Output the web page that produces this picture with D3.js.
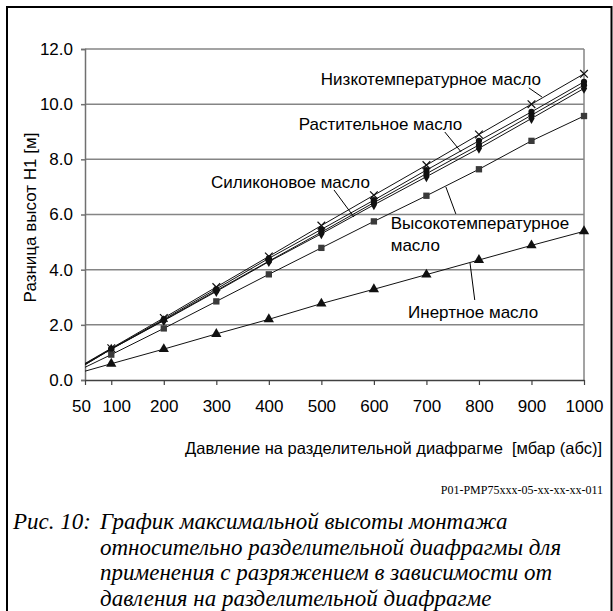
<!DOCTYPE html>
<html>
<head>
<meta charset="utf-8">
<script src="https://cdn.jsdelivr.net/npm/d3@7"></script>
<style>
  body { margin: 0; background: #fff; }
  svg { display: block; }
</style>
</head>
<body>
<div class="canvas"></div>
<script>
// chart data
const pressure = [50, 100, 200, 300, 400, 500, 600, 700, 800, 900, 1000];
const lowTemp   = [0.60, 1.15, 2.25, 3.37, 4.48, 5.60, 6.70, 7.79, 8.90, 10.00, 11.10];
const vegetable = [0.58, 1.13, 2.20, 3.30, 4.41, 5.46, 6.52, 7.61, 8.67, 9.72, 10.81];
const silicone  = [0.56, 1.12, 2.17, 3.24, 4.31, 5.36, 6.43, 7.48, 8.52, 9.60, 10.69];
const fourthOil = [0.55, 1.12, 2.15, 3.21, 4.29, 5.30, 6.35, 7.37, 8.40, 9.48, 10.57];
const highTemp  = [0.46, 0.92, 1.87, 2.85, 3.83, 4.79, 5.75, 6.68, 7.64, 8.67, 9.57];
const inert     = [0.32, 0.59, 1.12, 1.67, 2.20, 2.77, 3.29, 3.82, 4.35, 4.88, 5.39];

const xTicks = [50, 100, 200, 300, 400, 500, 600, 700, 800, 900, 1000];
const yTicks = [0, 2, 4, 6, 8, 10, 12];

const series = [
  {name: 'Низкотемпературное масло', values: lowTemp, marker: 'x'},
  {name: 'Растительное масло', values: vegetable, marker: 'circle'},
  {name: 'Силиконовое масло', values: silicone, marker: 'circle'},
  {name: 'Масло 4', values: fourthOil, marker: 'diamond'},
  {name: 'Высокотемпературное масло', values: highTemp, marker: 'square'},
  {name: 'Инертное масло', values: inert, marker: 'triangle'}
];

// labels and leader lines, in data units
const labels = [
  {lines: ['Низкотемпературное масло'], p: 499, v: 10.70, leader: [[895, 10.59], [920, 10.26]]},
  {lines: ['Растительное масло'], p: 457, v: 9.06, leader: [[735, 8.99], [766, 8.27]]},
  {lines: ['Силиконовое масло'], p: 290, v: 6.96, leader: [[524, 6.89], [562, 5.91]]},
  {lines: ['Высокотемпературное', 'масло'], p: 632, v: 5.47, leader: [[737, 7.00], [756, 6.02]]},
  {lines: ['Инертное масло'], p: 665, v: 2.25, leader: [[783, 4.24], [792, 2.90]]}
];

const W = 613, H = 611;
const margin = {left: 85, right: 584, top: 49, bottom: 380};
const sans = '"Liberation Sans", Arial, sans-serif';
const serif = '"Liberation Serif", "Times New Roman", serif';

const svg = d3.select('.canvas').append('svg')
  .attr('width', W).attr('height', H);

// page frame
svg.append('path')
  .attr('d', `M7,${H} V7 H611.5 V${H}`)
  .attr('fill', 'none').attr('stroke', '#000').attr('stroke-width', 2);

const x = d3.scaleLinear().domain([50, 1000]).range([margin.left, margin.right]);
const y = d3.scaleLinear().domain([0, 12]).range([margin.bottom, margin.top]);

// gridlines
svg.append('g').selectAll('line')
  .data(yTicks.filter(d => d > 0))
  .enter().append('line')
  .attr('x1', margin.left).attr('x2', margin.right)
  .attr('y1', d => y(d)).attr('y2', d => y(d))
  .attr('stroke', '#858585').attr('stroke-width', 1.5);

// right edge of plot area
svg.append('line')
  .attr('x1', margin.right).attr('x2', margin.right)
  .attr('y1', margin.top).attr('y2', margin.bottom)
  .attr('stroke', '#858585').attr('stroke-width', 1.5);

// y axis
const yAxis = svg.append('g')
  .attr('transform', `translate(${margin.left},0)`)
  .call(d3.axisLeft(y).tickValues(yTicks).tickFormat(d3.format('.1f')).tickSize(4).tickPadding(8));
yAxis.select('.domain').attr('stroke', '#707070').attr('stroke-width', 1.5);
yAxis.selectAll('.tick line').attr('stroke', '#707070').attr('stroke-width', 1.5);
yAxis.selectAll('text').attr('font-family', sans).attr('font-size', 17).attr('fill', '#000');

// x axis
const xAxis = svg.append('g')
  .attr('transform', `translate(0,${margin.bottom})`)
  .call(d3.axisBottom(x).tickValues(xTicks).tickFormat(d3.format('d')).tickSize(5).tickSizeOuter(0).tickPadding(15));
xAxis.select('.domain').attr('stroke', '#404040').attr('stroke-width', 1.5);
xAxis.selectAll('.tick line').attr('stroke', '#404040').attr('stroke-width', 1.2);
xAxis.selectAll('text').attr('font-family', sans).attr('font-size', 17).attr('fill', '#000');
// the first two labels sit a little apart, as in the original
xAxis.selectAll('.tick text').attr('dx', d => d === 50 ? -4 : (d === 100 ? 5 : 0));

// lines
const line = d3.line()
  .x((d, i) => x(pressure[i]))
  .y(d => y(d));

svg.append('g').selectAll('path')
  .data(series)
  .enter().append('path')
  .attr('d', d => line(d.values))
  .attr('fill', 'none')
  .attr('stroke', '#111')
  .attr('stroke-width', 1);

// markers (not at the 50 mbar start point)
const symbols = {
  x: d3.symbol(d3.symbolX, 40),
  circle: d3.symbol(d3.symbolCircle, 30),
  diamond: d3.symbol(d3.symbolDiamond, 34),
  square: d3.symbol(d3.symbolSquare, 40),
  triangle: d3.symbol(d3.symbolTriangle, 46)
};

series.forEach(s => {
  const pts = s.values.map((v, i) => ({p: pressure[i], v: v})).filter(d => d.p >= 100);
  svg.append('g').selectAll('path')
    .data(pts)
    .enter().append('path')
    .attr('transform', d => `translate(${x(d.p)},${y(d.v)})`)
    .attr('d', symbols[s.marker]())
    .attr('fill', s.marker === 'x' ? 'none' : (s.marker === 'square' ? '#3a3a3a' : '#111'))
    .attr('stroke', s.marker === 'x' ? '#111' : 'none')
    .attr('stroke-width', 1.2);
});

// series labels
labels.forEach(l => {
  const t = svg.append('text')
    .attr('font-family', sans).attr('font-size', 17).attr('fill', '#000');
  l.lines.forEach((s, i) => {
    t.append('tspan')
      .attr('x', x(l.p))
      .attr('y', y(l.v) + i * 22)
      .text(s);
  });
  svg.append('line')
    .attr('x1', x(l.leader[0][0])).attr('y1', y(l.leader[0][1]))
    .attr('x2', x(l.leader[1][0])).attr('y2', y(l.leader[1][1]))
    .attr('stroke', '#000').attr('stroke-width', 1);
});

// axis titles
svg.append('text')
  .attr('transform', `translate(36,${(margin.top + margin.bottom) / 2 + 3}) rotate(-90)`)
  .attr('text-anchor', 'middle')
  .attr('font-family', sans).attr('font-size', 17)
  .text('Разница высот H1 [м]');

svg.append('text')
  .attr('x', 602).attr('y', 454)
  .attr('text-anchor', 'end')
  .attr('font-family', sans).attr('font-size', 16.5)
  .attr('xml:space', 'preserve')
  .text('Давление на разделительной диафрагме  [мбар (абс)]');

// figure id
svg.append('text')
  .attr('x', 603).attr('y', 494)
  .attr('text-anchor', 'end')
  .attr('font-family', serif).attr('font-size', 12)
  .text('P01-PMP75xxx-05-xx-xx-xx-011');

// caption
const caption = [
  'График максимальной высоты монтажа',
  'относительно разделительной диафрагмы для',
  'применения с разряжением в зависимости от',
  'давления на разделительной диафрагме'
];
svg.append('text')
  .attr('x', 13).attr('y', 529)
  .attr('font-family', serif).attr('font-size', 23).attr('font-style', 'italic')
  .text('Рис. 10:');
svg.append('g').selectAll('text')
  .data(caption)
  .enter().append('text')
  .attr('x', 100)
  .attr('y', (d, i) => 529 + i * 25.5)
  .attr('font-family', serif).attr('font-size', 23).attr('font-style', 'italic')
  .text(d => d);
</script>
</body>
</html>
